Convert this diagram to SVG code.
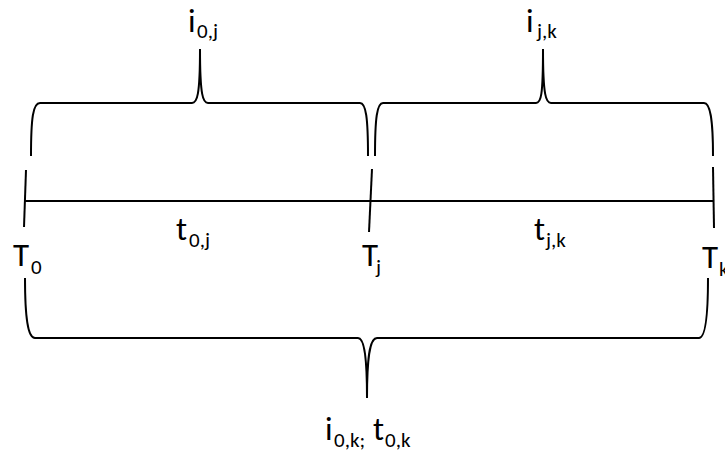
<svg xmlns="http://www.w3.org/2000/svg" width="725" height="455" viewBox="0 0 725 455">
<style>
.ln{fill:none;stroke:#000;stroke-width:2;stroke-linecap:butt}
.t{font-family:Carlito,Calibri,"Liberation Sans",sans-serif;font-size:33px;fill:#000}
.s{font-size:21px}
</style>
<rect width="725" height="455" fill="#fff"/>
<g id="connectors">
<path class="ln" d="M25,201 L714,201"/>
<path class="ln" d="M26,170 L24,227"/>
<path class="ln" d="M372,169 L369,232"/>
<path class="ln" d="M713,167 L714,228"/>
</g>
<g id="brace-0j">
<path class="ln" d="M31,156 C31,118 33,103 40,103 L192,103 C197,103 200,96 200,49 C200,96 203,103 208,103 L360,103 C366,103 368,118 368,156"/>
<text class="t" x="188" y="32">i<tspan class="s" x="197" y="38">0,j</tspan></text>
</g>
<g id="brace-jk">
<path class="ln" d="M375,156 C375,118 377,103 383,103 L536,103 C541,103 543,96 543,49 C543,96 546,103 551,103 L704,103 C710,103 713,118 713,156"/>
<text class="t" x="526" y="32">i<tspan class="s" x="537" y="38">j,k</tspan></text>
</g>
<g id="brace-0k">
<path class="ln" d="M25,278 C25,318 28,338 35,338 L358,338 C363,338 367,350 367,398 C367,350 371,338 377,338 L699,338 C705,338 708,318 708,278"/>
<text class="t" x="325" y="440">i<tspan class="s" x="334" y="447">0,k;</tspan><tspan x="373" y="440">t</tspan><tspan class="s" x="385" y="447">0,k</tspan></text>
</g>
<g id="T0">
<text class="t" x="13" y="266">T<tspan class="s" x="31" y="274">0</tspan></text>
</g>
<g id="Tj">
<text class="t" x="362" y="266">T<tspan class="s" x="376" y="274">j</tspan></text>
</g>
<g id="Tk">
<text class="t" x="702" y="268">T<tspan class="s" x="719" y="276">k</tspan></text>
</g>
<g id="t0j">
<text class="t" x="176" y="240">t<tspan class="s" x="189" y="247">0,j</tspan></text>
</g>
<g id="tjk">
<text class="t" x="534" y="240">t<tspan class="s" x="546" y="247">j,k</tspan></text>
</g>
</svg>
